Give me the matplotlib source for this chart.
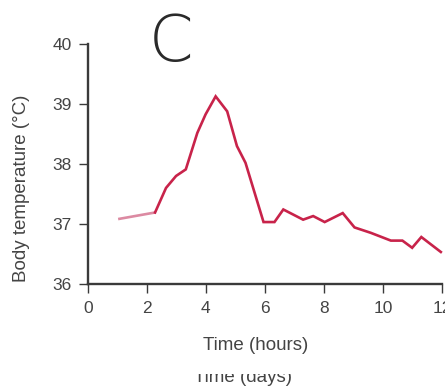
import matplotlib
matplotlib.use("Agg")
import matplotlib.pyplot as plt
from matplotlib.patches import Rectangle

# Data
lead_hours = [1.03, 2.28]
lead_temp = [37.08, 37.19]

hours = [2.28, 2.65, 2.99, 3.32, 3.71, 3.99, 4.33, 4.72, 5.05, 5.34, 5.95,
         6.32, 6.62, 7.29, 7.63, 8.02, 8.63, 9.03, 9.58, 10.26, 10.65,
         10.98, 11.29, 11.95]
temps = [37.19, 37.60, 37.80, 37.91, 38.52, 38.83, 39.13, 38.88, 38.30,
         38.02, 37.03, 37.03, 37.24, 37.07, 37.13, 37.03, 37.18, 36.94,
         36.85, 36.72, 36.72, 36.60, 36.78, 36.53]

xticks = [0, 2, 4, 6, 8, 10, 12]
yticks = [36, 37, 38, 39, 40]

plt.rcParams['font.family'] = ['Liberation Sans', 'DejaVu Sans']

W, H = 445, 388
fig = plt.figure(figsize=(W / 100, H / 100), dpi=100)
left, right = 87.7, 442.3
top, bottom = 44.3, 283.7
ax = fig.add_axes([left / W, (H - bottom) / H, (right - left) / W, (bottom - top) / H])

ax.plot(lead_hours, lead_temp, color='#dc8aa2', lw=1.9, solid_capstyle='butt', clip_on=False)
ax.plot(hours, temps, color='#c8234a', lw=1.9, solid_joinstyle='miter', clip_on=False)

ax.set_xlim(0, 12)
ax.set_ylim(36, 40)
ax.set_xticks(xticks)
ax.set_yticks(yticks)
ax.set_xticklabels([str(t) for t in xticks])
ax.set_yticklabels([str(t) for t in yticks])

for s in ['top', 'right']:
    ax.spines[s].set_visible(False)
for s in ['left', 'bottom']:
    ax.spines[s].set_color('#3a3a3a')
    ax.spines[s].set_linewidth(1.7)
    ax.spines[s].set_capstyle('projecting')
ax.tick_params(axis='both', colors='#3a3a3a', labelcolor='#444444', labelsize=12.5,
               length=6.5, width=1.0, direction='out')
ax.tick_params(axis='y', pad=5)
ax.tick_params(axis='x', pad=6)

fig.text(22 / W, 1 - 188 / H, 'Body temperature (°C)', rotation=90, ha='center', va='center',
         fontsize=13.5, color='#444444')
fig.text(256 / W, 1 - 346 / H, 'Time (hours)', ha='center', va='center',
         fontsize=13.5, color='#444444')
fig.text(242.5 / W, 1 - 381.5 / H, 'Time (days)', ha='center', va='baseline',
         fontsize=13.5, color='#444444')
fig.patches.append(Rectangle((180 / W, 1 - 374 / H), 130 / W, 14 / H,
                             transform=fig.transFigure, facecolor='white', edgecolor='none',
                             zorder=5))

fig.text(171 / W, 1 - 43 / H, 'C', ha='center', va='center', fontsize=46,
         color='#2a2a2a', family=['DejaVu Sans'], fontweight='light')

fig.savefig('out.png', dpi=100)
